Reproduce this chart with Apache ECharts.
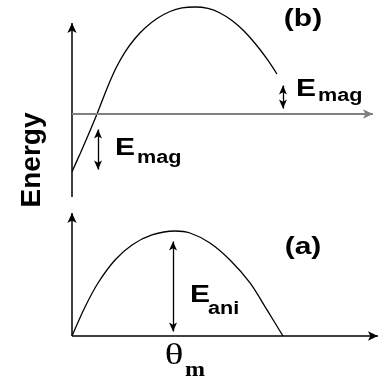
<!DOCTYPE html>
<html><head><meta charset="utf-8">
<script src="https://cdn.jsdelivr.net/npm/echarts@6/dist/echarts.min.js"></script>
<style>html,body{margin:0;padding:0;background:#fff}#c{width:385px;height:387px}</style>
</head><body><div id="c"></div>
<script>
// Panel (b): total energy vs theta (degrees), energy in units of E_ani peak
const thetaTop = [0, 6.82, 13.65, 21.33, 29.86, 37.54, 45.21, 53.75, 62.28, 72.51, 83.60, 93.84, 104.93, 116.02, 126.26, 136.50, 146.73, 156.97, 166.35, 174.88];
const energyTop = [-0.55, -0.38, -0.205, 0, 0.244, 0.438, 0.590, 0.719, 0.819, 0.910, 0.976, 1.010, 1.019, 1.005, 0.962, 0.890, 0.790, 0.662, 0.524, 0.381];
// Panel (a): anisotropy energy
const thetaBottom = [0, 11.1, 22.2, 36.7, 51.2, 68.2, 87.9, 100.7, 117.7, 134.8, 151.9, 166.4, 180];
const energyBottom = [0, 0.276, 0.505, 0.724, 0.867, 0.962, 1.0, 0.981, 0.886, 0.724, 0.505, 0.248, 0];
// Double arrows: [theta, E start, E end]
const arrowMagRight = [180, 0.052, 0.271];
const arrowMagLeft = [22.2, -0.148, -0.529];
const arrowAni = [86.2, 0.043, 0.9];
// Axis extents
const topAxisY = [-0.79, 0.867];
const topZeroLineX = [0, 256.8];
const bottomAxisY = [0, 1.171];
const bottomAxisX = [0, 261];
// Labels
const labelTop = '(b)', labelBottom = '(a)', yLabel = 'Energy', xLabel = 'θ', xSub = 'm';

const pair = (a, b) => a.map((v, i) => [v, b[i]]);
const chart = echarts.init(document.getElementById('c'), null, {renderer: 'canvas'});

function ml(p1, p2, color, width, syms, size) {
  return [
    {coord: p1, symbol: syms[0], symbolSize: size, lineStyle: {color, width, type: 'solid'}},
    {coord: p2, symbol: syms[1], symbolSize: size, lineStyle: {color, width, type: 'solid'}}
  ];
}
const AX = [7, 10], DA = [6, 9];
const markBase = {silent: true, animation: false, label: {show: false}, emphasis: {disabled: true}};

chart.setOption({
  animation: false,
  grid: [
    {left: 72, top: 9, width: 310.6, height: 189},
    {left: 72, top: 210, width: 310.6, height: 126}
  ],
  xAxis: [
    {type: 'value', gridIndex: 0, min: 0, max: 265, show: false},
    {type: 'value', gridIndex: 1, min: 0, max: 265, show: false}
  ],
  yAxis: [
    {type: 'value', gridIndex: 0, min: -0.8, max: 1.0, show: false},
    {type: 'value', gridIndex: 1, min: 0, max: 1.2, show: false}
  ],
  series: [
    {
      type: 'line', xAxisIndex: 0, yAxisIndex: 0, data: pair(thetaTop, energyTop),
      smooth: 0.3, showSymbol: false, clip: false, silent: true,
      lineStyle: {color: '#000', width: 1.3},
      markLine: Object.assign({}, markBase, {
        data: [
          ml([0, topAxisY[0]], [0, topAxisY[1]], '#000', 1.5, ['none', 'arrow'], AX),
          ml([topZeroLineX[0], 0], [topZeroLineX[1], 0], '#808080', 2, ['none', 'arrow'], AX),
          ml([arrowMagRight[0], arrowMagRight[1]], [arrowMagRight[0], arrowMagRight[2]], '#000', 1.3, ['arrow', 'arrow'], DA),
          ml([arrowMagLeft[0], arrowMagLeft[1]], [arrowMagLeft[0], arrowMagLeft[2]], '#000', 1.3, ['arrow', 'arrow'], DA)
        ]
      })
    },
    {
      type: 'line', xAxisIndex: 1, yAxisIndex: 1, data: pair(thetaBottom, energyBottom),
      smooth: 0.3, showSymbol: false, clip: false, silent: true,
      lineStyle: {color: '#000', width: 1.3},
      markLine: Object.assign({}, markBase, {
        data: [
          ml([0, bottomAxisY[0]], [0, bottomAxisY[1]], '#000', 1.5, ['none', 'arrow'], AX),
          ml([bottomAxisX[0], 0], [bottomAxisX[1], 0], '#000', 1.5, ['none', 'arrow'], AX),
          ml([arrowAni[0], arrowAni[1]], [arrowAni[0], arrowAni[2]], '#000', 1.3, ['arrow', 'arrow'], DA)
        ]
      })
    }
  ]
});

// Annotation text placed relative to data anchors
const pT = (x, y) => chart.convertToPixel({gridIndex: 0}, [x, y]);
const pB = (x, y) => chart.convertToPixel({gridIndex: 1}, [x, y]);
const SANS = 'Liberation Sans, Arial, Helvetica, sans-serif';
const SERIF = 'Liberation Serif, Times New Roman, serif';
function txt(text, x, y, size, opts) {
  opts = opts || {};
  return {
    type: 'text', x, y, rotation: opts.rot || 0, scaleX: opts.sx || 1, scaleY: opts.sy || 1, silent: true,
    style: {text, fontSize: size, fontWeight: opts.w || 'bold', fontFamily: opts.f || SANS, fill: '#000',
      textAlign: opts.a || 'left', textVerticalAlign: 'middle'}
  };
}
const aR = pT(arrowMagRight[0], (arrowMagRight[1] + arrowMagRight[2]) / 2);
const aL = pT(arrowMagLeft[0], (arrowMagLeft[1] + arrowMagLeft[2]) / 2);
const aA = pB(arrowAni[0], (arrowAni[1] + arrowAni[2]) / 2);
const o0 = pB(0, 0);
chart.setOption({
  graphic: [
    txt(labelTop, 303, 19, 24, {a: 'center', sx: 1.25}),
    txt(labelBottom, 303, 247, 24, {a: 'center', sx: 1.25}),
    txt(yLabel, 32, 160, 28, {a: 'center', rot: Math.PI / 2}),
    txt('E', aR[0] + 13, aR[1] - 8, 24, {sx: 1.25}),
    txt('mag', aR[0] + 35, aR[1] - 1, 18, {sx: 1.2}),
    txt('E', aL[0] + 17, aL[1] - 1, 24, {sx: 1.25}),
    txt('mag', aL[0] + 39, aL[1] + 8, 18, {sx: 1.2}),
    txt('E', aA[0] + 17, aA[1] + 9, 24, {sx: 1.25}),
    txt('ani', aA[0] + 35, aA[1] + 23, 18, {sx: 1.2}),
    txt(xLabel, 174, o0[1] + 20, 30, {a: 'center', w: 'normal', f: SERIF, sx: 1.3}),
    txt(xSub, 185, o0[1] + 35, 20, {f: SERIF, sx: 1.2})
  ]
});
</script></body></html>
